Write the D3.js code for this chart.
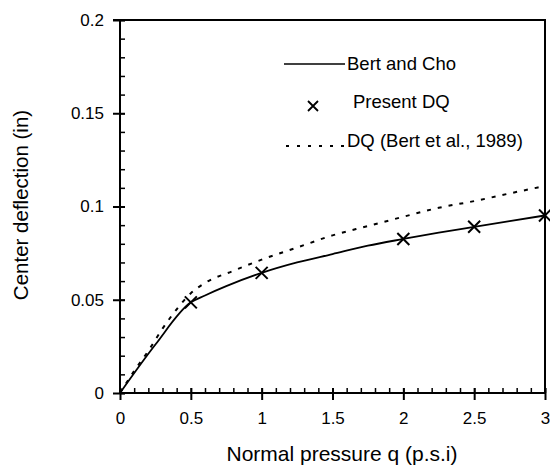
<!DOCTYPE html>
<html>
<head>
<meta charset="utf-8">
<script src="https://cdn.jsdelivr.net/npm/d3@7"></script>
<style>
  body { margin: 0; background: #fff; }
  svg text { font-family: "Liberation Sans", Arial, sans-serif; fill: #000; }
</style>
</head>
<body>
<script>
// Bert and Cho (solid curve)
var bertChoQ = [0, 0.25, 0.5, 0.6, 0.75, 1, 1.25, 1.5, 1.75, 2, 2.25, 2.5, 2.75, 3];
var bertChoW = [0, 0.026, 0.0486, 0.0523, 0.0573, 0.0644, 0.0700, 0.0745, 0.0790, 0.0826, 0.0860, 0.0891, 0.0922, 0.0952];

// Present DQ (crosses)
var presentQ = [0.5, 1, 2, 2.5, 3];
var presentW = [0.0486, 0.0644, 0.0826, 0.0891, 0.0952];

// DQ (Bert et al., 1989) (dotted curve)
var dqQ = [0, 0.1, 0.2, 0.3, 0.4, 0.5, 0.6, 0.8, 1, 1.25, 1.5, 1.75, 2, 2.25, 2.5, 2.75, 3];
var dqW = [0, 0.0118, 0.0226, 0.0345, 0.0449, 0.0535, 0.059, 0.0655, 0.0715, 0.078, 0.0845, 0.0895, 0.0945, 0.0993, 0.1029, 0.107, 0.111];

// Tick values
var xMajor = [0, 0.5, 1, 1.5, 2, 2.5, 3];
var yMajor = [0, 0.05, 0.1, 0.15, 0.2];
var xLabels = ["0", "0.5", "1", "1.5", "2", "2.5", "3"];
var yLabels = ["0", "0.05", "0.1", "0.15", "0.2"];

var legendNames = ["Bert and Cho", "Present DQ", "DQ (Bert et al., 1989)"];

var plotLeft = 120, plotRight = 545, plotTop = 20, plotBottom = 393;

var svg = d3.select("body").append("svg")
    .attr("width", 550)
    .attr("height", 469);

var x = d3.scaleLinear().domain([0, 3]).range([plotLeft, plotRight]);
var y = d3.scaleLinear().domain([0, 0.2]).range([plotBottom, plotTop]);

// minor ticks (inside)
var xMinor = d3.range(0, 31).map(function(i) { return i / 10; });
var yMinor = d3.range(0, 21).map(function(i) { return i / 100; });

svg.append("g")
    .attr("transform", "translate(0," + plotBottom + ")")
    .call(d3.axisBottom(x).tickValues(xMinor).tickSize(-5).tickFormat(""))
    .call(function(g) { g.select(".domain").remove(); })
    .selectAll("line").attr("stroke-width", 1.5);

svg.append("g")
    .attr("transform", "translate(" + plotLeft + ",0)")
    .call(d3.axisLeft(y).tickValues(yMinor).tickSize(-5).tickFormat(""))
    .call(function(g) { g.select(".domain").remove(); })
    .selectAll("line").attr("stroke-width", 1.5);

// major axes
var xAxis = svg.append("g")
    .attr("transform", "translate(0," + plotBottom + ")")
    .call(d3.axisBottom(x).tickValues(xMajor).tickSize(7).tickPadding(12)
      .tickFormat(function(d, i) { return xLabels[i]; }));
xAxis.selectAll(".tick line").attr("y1", -5).attr("stroke-width", 2);
xAxis.select(".domain").attr("stroke-width", 2).attr("d", "M" + plotLeft + ",0H" + plotRight);
xAxis.selectAll("text").attr("font-size", 17).attr("font-family", "Liberation Sans, Arial, sans-serif");

var yAxis = svg.append("g")
    .attr("transform", "translate(" + plotLeft + ",0)")
    .call(d3.axisLeft(y).tickValues(yMajor).tickSize(7).tickPadding(9)
      .tickFormat(function(d, i) { return yLabels[i]; }));
yAxis.selectAll(".tick line").attr("x1", 5).attr("stroke-width", 2);
yAxis.select(".domain").attr("stroke-width", 2).attr("d", "M0," + plotBottom + "V" + plotTop);
yAxis.selectAll("text").attr("font-size", 17).attr("font-family", "Liberation Sans, Arial, sans-serif");

// frame: top and right
svg.append("path")
    .attr("d", "M" + (plotLeft - 7) + "," + plotTop + "H" + plotRight + "V" + plotBottom)
    .attr("fill", "none")
    .attr("stroke", "#000")
    .attr("stroke-width", 2);

// curves
var line = d3.line()
    .x(function(d) { return x(d[0]); })
    .y(function(d) { return y(d[1]); })
    .curve(d3.curveMonotoneX);

svg.append("path")
    .datum(d3.zip(dqQ, dqW))
    .attr("d", line)
    .attr("fill", "none")
    .attr("stroke", "#000")
    .attr("stroke-width", 2)
    .attr("stroke-dasharray", "4,7");

svg.append("path")
    .datum(d3.zip(bertChoQ, bertChoW))
    .attr("d", line)
    .attr("fill", "none")
    .attr("stroke", "#000")
    .attr("stroke-width", 1.8);

// crosses
var cross = function(cx, cy, s) {
  return "M" + (cx - s) + "," + (cy - s) + "L" + (cx + s) + "," + (cy + s) +
         "M" + (cx - s) + "," + (cy + s) + "L" + (cx + s) + "," + (cy - s);
};

svg.selectAll(".mark")
    .data(d3.zip(presentQ, presentW))
    .enter().append("path")
    .attr("class", "mark")
    .attr("d", function(d) { return cross(x(d[0]), y(d[1]), 6); })
    .attr("stroke", "#000")
    .attr("stroke-width", 2);

// legend
var lg = svg.append("g");
lg.append("line")
    .attr("x1", 284).attr("x2", 345)
    .attr("y1", 64).attr("y2", 64)
    .attr("stroke", "#000").attr("stroke-width", 1.5);
lg.append("path")
    .attr("d", cross(313, 106, 5))
    .attr("stroke", "#000").attr("stroke-width", 1.8);
lg.append("line")
    .attr("x1", 286).attr("x2", 345)
    .attr("y1", 146).attr("y2", 146)
    .attr("stroke", "#000").attr("stroke-width", 2)
    .attr("stroke-dasharray", "3,8");

var legendX = [347, 353, 347];
var legendY = [70, 108, 147];
lg.selectAll("text")
    .data(legendNames)
    .enter().append("text")
    .attr("x", function(d, i) { return legendX[i]; })
    .attr("y", function(d, i) { return legendY[i]; })
    .attr("font-size", 18.5)
    .text(function(d) { return d; });

// axis titles
svg.append("text")
    .attr("x", 342)
    .attr("y", 461)
    .attr("text-anchor", "middle")
    .attr("font-size", 21)
    .text("Normal pressure q (p.s.i)");

svg.append("text")
    .attr("transform", "translate(28,205) rotate(-90)")
    .attr("text-anchor", "middle")
    .attr("font-size", 20.5)
    .text("Center deflection (in)");
</script>
</body>
</html>
